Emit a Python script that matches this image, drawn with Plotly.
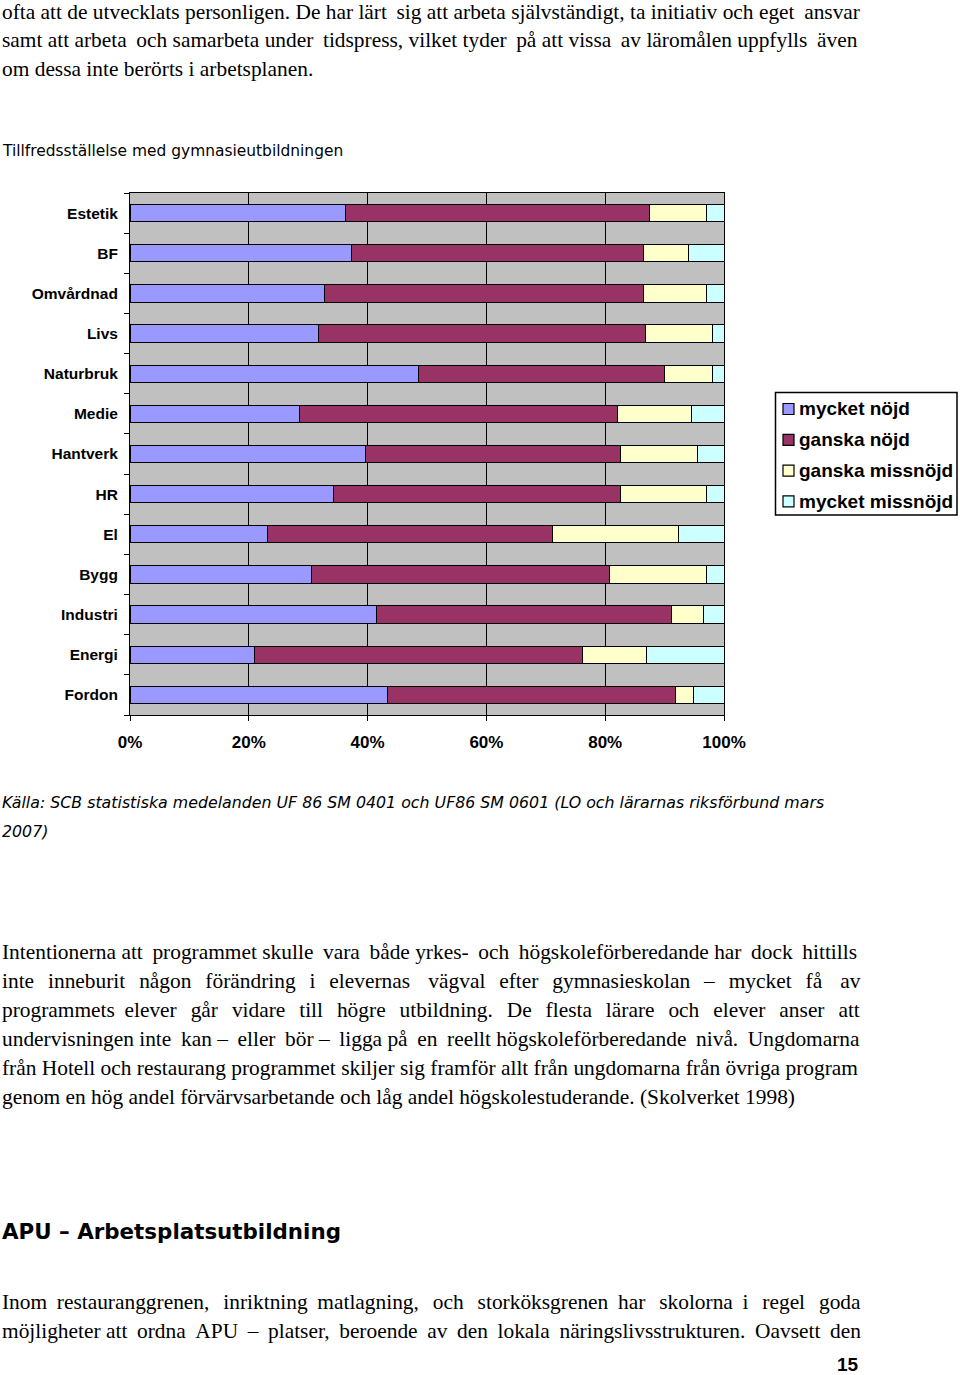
import plotly.graph_objects as go

W, H = 960, 1375

categories = ["Estetik", "BF", "Omvårdnad", "Livs", "Naturbruk", "Medie", "Hantverk",
              "HR", "El", "Bygg", "Industri", "Energi", "Fordon"]
mycket_nojd = [36.3, 37.3, 32.7, 31.7, 48.5, 28.5, 39.7, 34.2, 23.1, 30.5, 41.5, 20.9, 43.3]
ganska_nojd = [51.2, 49.2, 53.8, 55.0, 41.4, 53.5, 42.8, 48.3, 48.0, 50.3, 49.6, 55.2, 48.6]
ganska_missnojd = [9.5, 7.6, 10.5, 11.3, 8.1, 12.6, 13.1, 14.5, 21.2, 16.2, 5.4, 10.9, 2.9]
mycket_missnojd = [3.0, 5.9, 3.0, 2.0, 2.0, 5.4, 4.4, 3.0, 7.7, 3.0, 3.5, 13.0, 5.2]

series_names = ["mycket nöjd", "ganska nöjd", "ganska missnöjd", "mycket missnöjd"]
series_values = [mycket_nojd, ganska_nojd, ganska_missnojd, mycket_missnojd]
series_colors = ["#9999FF", "#993366", "#FFFFCC", "#CCFFFF"]

x_tickvals = [0, 20, 40, 60, 80, 100]
x_ticktext = ["0%", "20%", "40%", "60%", "80%", "100%"]

fig = go.Figure()
for name, vals, col in zip(series_names, series_values, series_colors):
    fig.add_trace(go.Bar(
        y=categories, x=vals, name=name, orientation="h",
        marker=dict(color=col, line=dict(color="black", width=1)),
        showlegend=False,
    ))


def px_x(px):
    return px / W


def px_y(py):
    return 1 - py / H


fig.update_layout(
    width=W, height=H,
    margin=dict(l=0, r=0, t=0, b=0, autoexpand=False),
    paper_bgcolor="white",
    plot_bgcolor="#C0C0C0",
    barmode="stack",
    bargap=0.57,
    showlegend=False,
    xaxis=dict(
        domain=[px_x(130), px_x(724)],
        range=[0, 100],
        tickvals=x_tickvals, ticktext=x_ticktext,
        showgrid=True, gridcolor="black", gridwidth=1,
        showline=True, linecolor="black", linewidth=1, mirror=True,
        ticks="outside", ticklen=5, tickcolor="black",
        tickfont=dict(family="Liberation Sans, Arial", size=17, color="black", weight="bold"),
        ticklabelstandoff=7,
        zeroline=False, automargin=False,
    ),
    yaxis=dict(
        domain=[px_y(715), px_y(193)],
        categoryorder="array", categoryarray=categories[::-1],
        showgrid=False,
        showline=True, linecolor="black", linewidth=1, mirror=True,
        ticks="outside", ticklen=5, tickcolor="black", tickson="boundaries",
        tickfont=dict(family="Liberation Sans, Arial", size=15.5, color="black", weight="bold"),
        ticklabelstandoff=8, automargin=False,
    ),
)

# legend box (drawn from the series lists)
fig.add_shape(type="rect", xref="paper", yref="paper",
              x0=px_x(775.5), x1=px_x(957), y0=px_y(515), y1=px_y(392.5),
              line=dict(color="black", width=1.5), fillcolor="white")
for i, (name, col) in enumerate(zip(series_names, series_colors)):
    yc = 409 + 30.8 * i
    fig.add_shape(type="rect", xref="paper", yref="paper",
                  x0=px_x(783), x1=px_x(794), y0=px_y(yc + 5.5), y1=px_y(yc - 5.5),
                  line=dict(color="black", width=1.2), fillcolor=col)
    fig.add_annotation(text=name, x=px_x(797), y=px_y(yc), xref="paper", yref="paper",
                       xanchor="left", yanchor="middle", showarrow=False,
                       font=dict(family="Liberation Sans, Arial", size=19, color="black", weight="bold"))

serif = "Liberation Serif, Times New Roman"
sans = "DejaVu Sans, Verdana"
THIN = "\u2009"


def txt(s, x, y, size, family, weight="normal", style="normal", xanchor="left"):
    fig.add_annotation(
        text=s, x=px_x(x), y=px_y(y), xref="paper", yref="paper",
        xanchor=xanchor, yanchor="middle", showarrow=False, borderpad=0,
        font=dict(family=family, size=size, color="black", weight=weight, style=style),
    )


def justify(s, n_thin):
    """Spread n_thin thin spaces across the word gaps to imitate justified text."""
    words = s.split(" ")
    gaps = len(words) - 1
    if gaps <= 0 or n_thin <= 0:
        return s
    out = words[0]
    for i, w in enumerate(words[1:]):
        extra = (n_thin * (i + 1)) // gaps - (n_thin * i) // gaps
        out += " " + THIN * extra + w
    return out


top_lines = [
    ("ofta att de utvecklats personligen. De har lärt sig att arbeta självständigt, ta initiativ och eget ansvar", 2),
    ("samt att arbeta och samarbeta under tidspress, vilket tyder på att vissa av läromålen uppfylls även", 5),
    ("om dessa inte berörts i arbetsplanen.", 0),
]
for i, (s, n) in enumerate(top_lines):
    txt(justify(s, n), 1, 12 + 28.5 * i, 21.4, serif)

txt("Tillfredsställelse med gymnasieutbildningen", 1, 151, 15.45, sans)

txt("Källa: SCB statistiska medelanden UF 86 SM 0401 och UF86 SM 0601 (LO och lärarnas riksförbund mars",
    1, 802, 15.8, sans, style="italic")
txt("2007)", 1, 831, 15.8, sans, style="italic")

para = [
    ("Intentionerna att programmet skulle vara både yrkes- och högskoleförberedande har dock hittills", 7),
    ("inte inneburit någon förändring i elevernas vägval efter gymnasieskolan – mycket få av", 26),
    ("programmets elever går vidare till högre utbildning. De flesta lärare och elever anser att", 25),
    ("undervisningen inte kan – eller bör – ligga på en reellt högskoleförberedande nivå. Ungdomarna", 8),
    ("från Hotell och restaurang programmet skiljer sig framför allt från ungdomarna från övriga program", 0),
    ("genom en hög andel förvärvsarbetande och låg andel högskolestuderande. (Skolverket 1998)", 0),
]
for i, (s, n) in enumerate(para):
    txt(justify(s, n), 1, 952 + 29 * i, 21.4, serif)

txt("APU – Arbetsplatsutbildning", 1, 1231, 21.4, sans, weight="bold")

last = [
    ("Inom restauranggrenen, inriktning matlagning, och storköksgrenen har skolorna i regel goda", 16),
    ("möjligheter att ordna APU – platser, beroende av den lokala näringslivsstrukturen. Oavsett den", 11),
]
for i, (s, n) in enumerate(last):
    txt(justify(s, n), 1, 1302 + 29 * i, 21.4, serif)

txt("15", 860, 1364, 19, "Liberation Sans, Arial", weight="bold", xanchor="right")

fig.write_html(
    "out.html",
    config={"displayModeBar": False},
    post_script="document.body.style.margin='0';document.body.style.overflow='hidden';",
)
